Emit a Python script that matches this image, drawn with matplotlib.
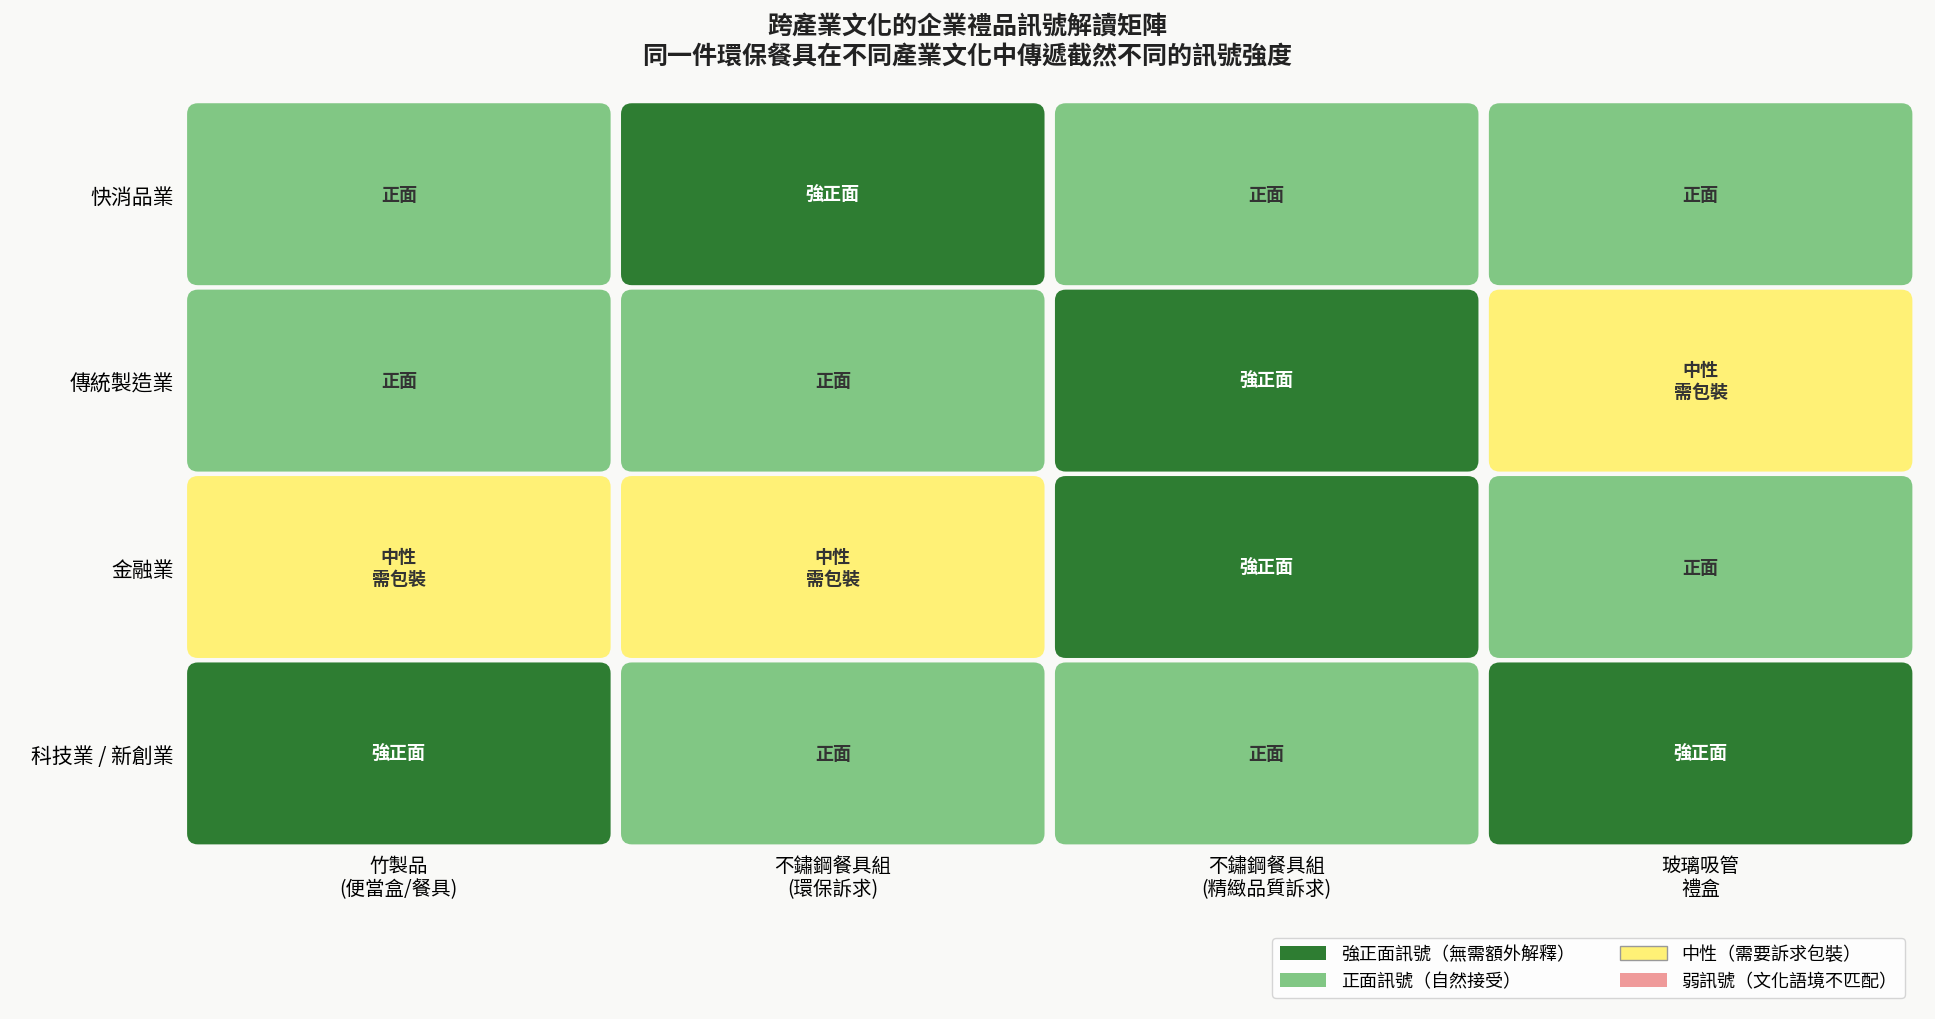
import matplotlib.pyplot as plt
from matplotlib.patches import FancyBboxPatch, Patch

plt.rcParams['font.family'] = ['Noto Sans CJK TC', 'DejaVu Sans']

industries = ["快消品業", "傳統製造業", "金融業", "科技業 / 新創業"]
products = ["竹製品\n(便當盒/餐具)", "不鏽鋼餐具組\n(環保訴求)", "不鏽鋼餐具組\n(精緻品質訴求)", "玻璃吸管\n禮盒"]
# 3 = strong positive, 2 = positive, 1 = neutral, 0 = weak
signal = [
    [2, 3, 2, 2],
    [2, 2, 3, 1],
    [1, 1, 3, 2],
    [3, 2, 2, 3],
]
labels = {3: "強正面", 2: "正面", 1: "中性\n需包裝", 0: "弱"}
colors = {3: "#2e7d32", 2: "#81c784", 1: "#fff176", 0: "#ef9a9a"}
legend_labels = ["強正面訊號（無需額外解釋）", "正面訊號（自然接受）", "中性（需要訴求包裝）", "弱訊號（文化語境不匹配）"]

fig = plt.figure(figsize=(19.35, 10.2), dpi=100, facecolor="#f9f9f7")
ax = fig.add_axes([0.094, 0.169, 0.897, 0.731])
ax.set_facecolor("#f9f9f7")
ax.set_xlim(0, 4)
ax.set_ylim(4, 0)

gap = 0.012
# correct rounding for axes aspect (px per unit x / px per unit y)
asp = (0.897 * 1935 / 4) / (0.731 * 1020 / 4)
for r, row in enumerate(signal):
    for c, v in enumerate(row):
        box = FancyBboxPatch((c + gap, r + gap), 1 - 2 * gap, 1 - 2 * gap,
                             boxstyle="round,pad=0,rounding_size=0.025",
                             mutation_aspect=asp,
                             facecolor=colors[v], edgecolor="none")
        ax.add_patch(box)
        tc = "white" if v == 3 else "#333333"
        ax.text(c + 0.5, r + 0.5, labels[v], ha="center", va="center",
                fontsize=13, fontweight="bold", color=tc, linespacing=1.2)

ax.set_xticks([0.5, 1.5, 2.5, 3.5])
ax.set_xticklabels(products, fontsize=14, linespacing=1.15)
ax.set_yticks([0.5, 1.5, 2.5, 3.5])
ax.set_yticklabels(industries, fontsize=15)
ax.tick_params(length=0, pad=6)
for s in ax.spines.values():
    s.set_visible(False)

fig.suptitle("跨產業文化的企業禮品訊號解讀矩陣\n同一件環保餐具在不同產業文化中傳遞截然不同的訊號強度",
             y=0.985, fontsize=18, fontweight="bold", color="#222222", linespacing=1.3)

handles = [
    Patch(facecolor=colors[3], edgecolor="none"),
    Patch(facecolor=colors[2], edgecolor="none"),
    Patch(facecolor=colors[1], edgecolor="#999999"),
    Patch(facecolor=colors[0], edgecolor="none"),
]
fig.legend(handles, legend_labels, ncol=2, loc="lower right",
           bbox_to_anchor=(0.989, 0.012), fontsize=13, frameon=True,
           facecolor="white", edgecolor="#cccccc", columnspacing=2.5,
           handlelength=2.6, handleheight=0.8)

fig.savefig("out.png", dpi=100, facecolor=fig.get_facecolor())
